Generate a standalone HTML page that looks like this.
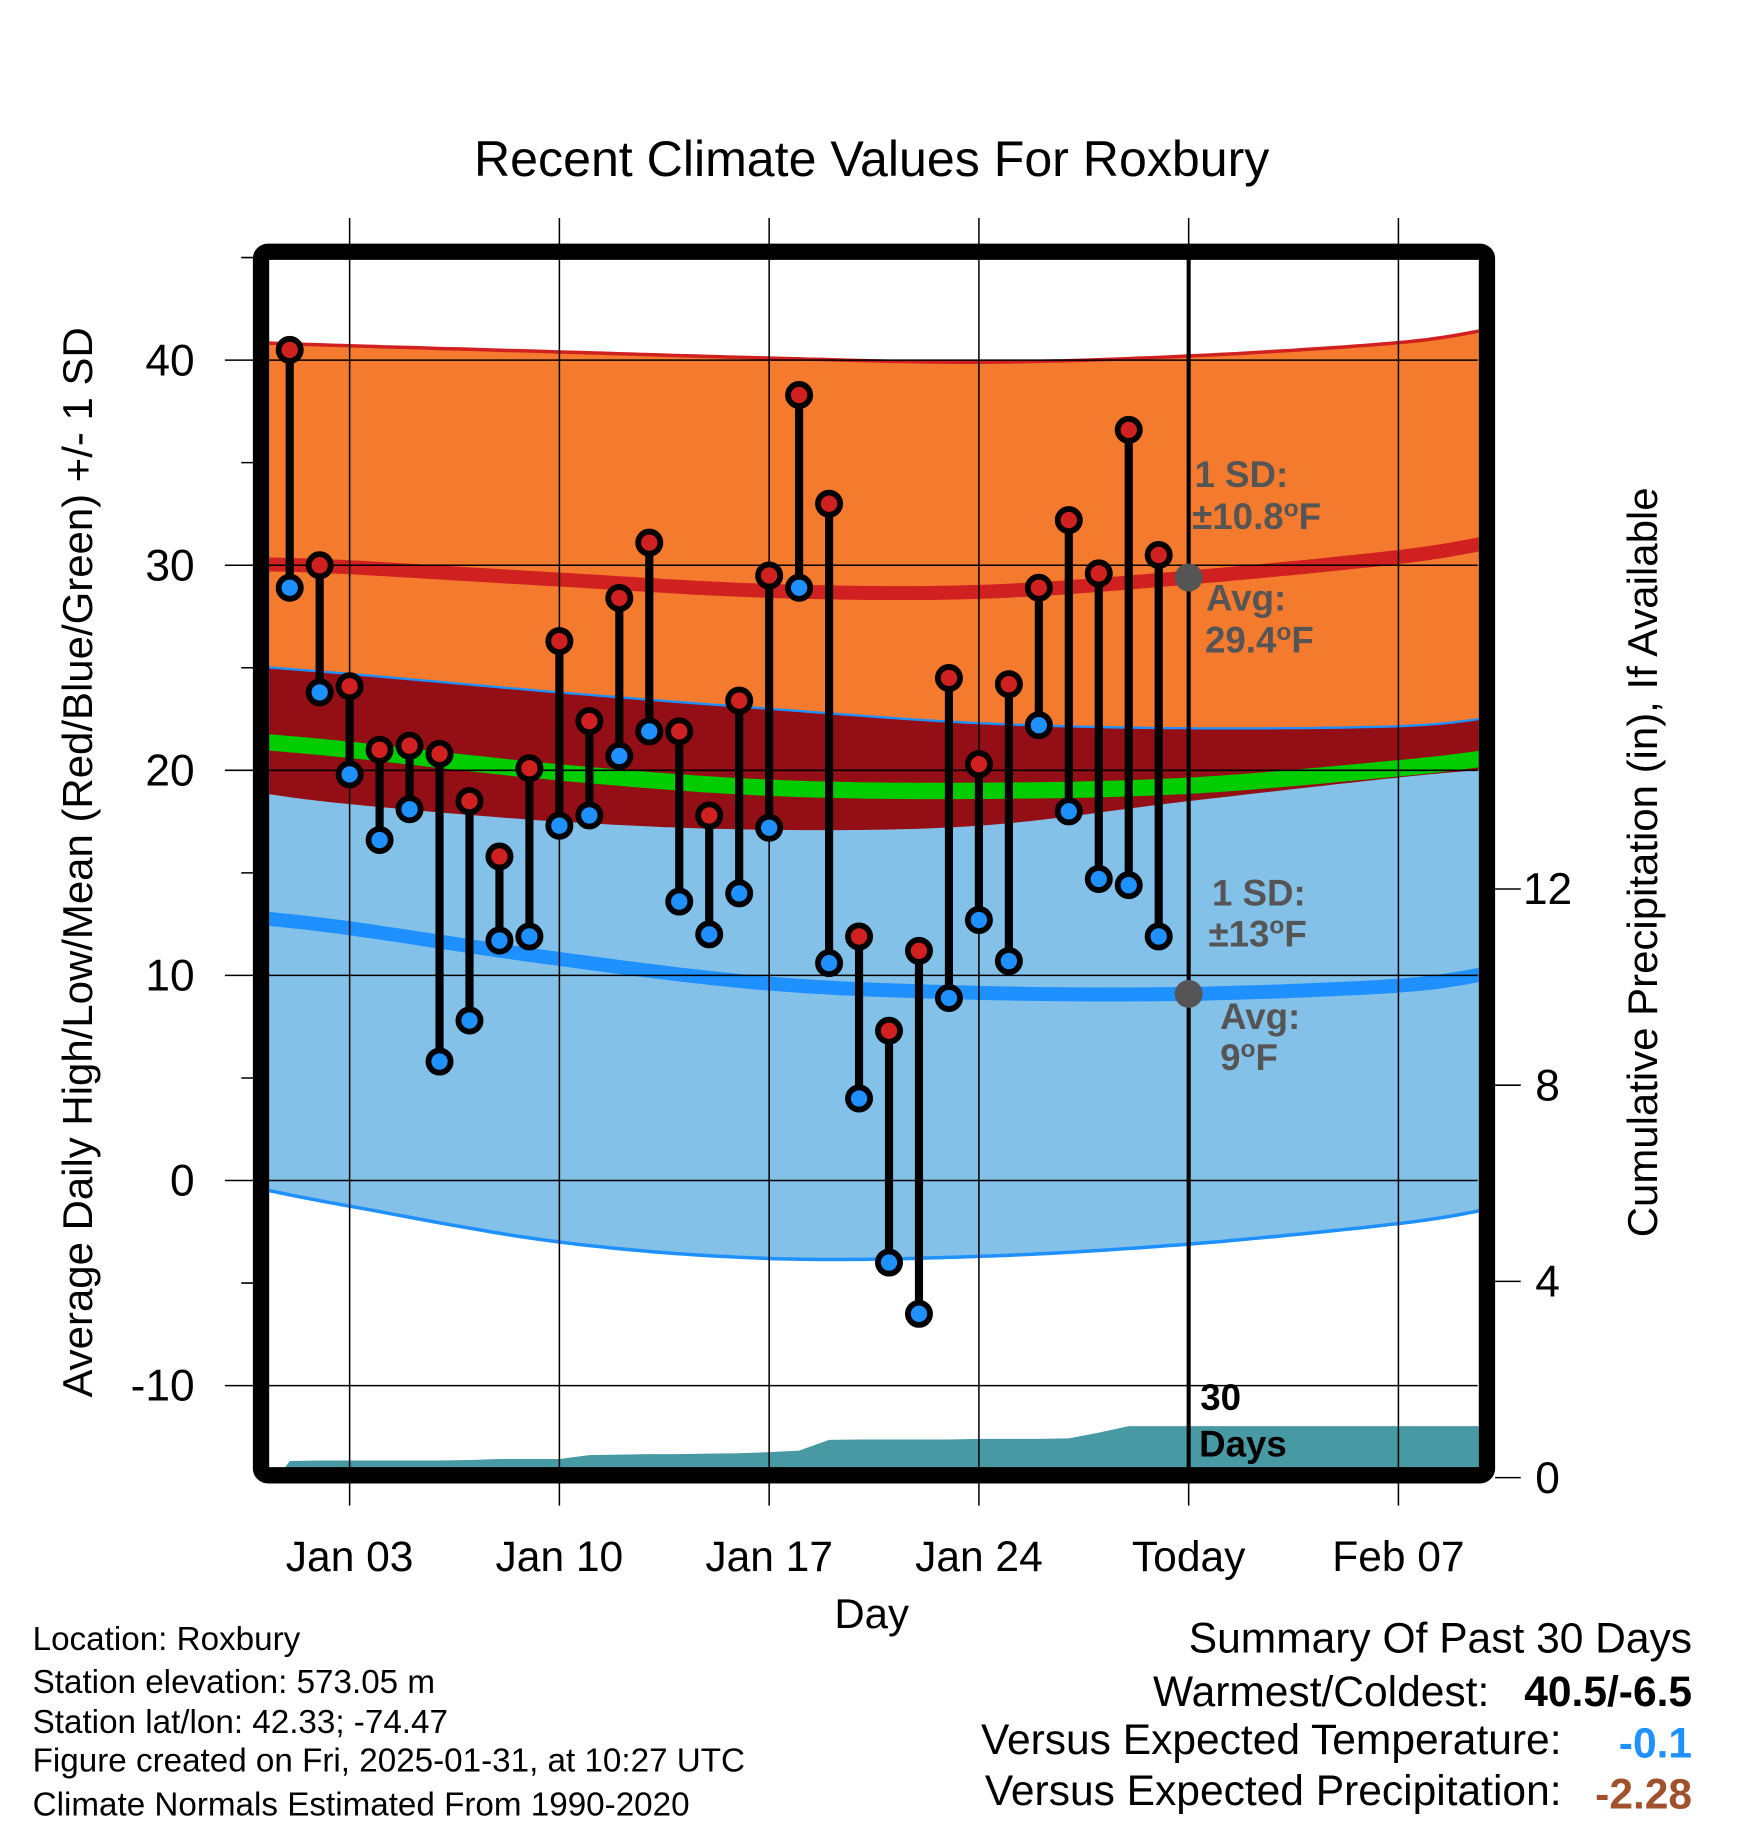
<!DOCTYPE html>
<html><head><meta charset="utf-8"><style>
html,body{margin:0;padding:0;background:#fff;}
svg{display:block;font-family:"Liberation Sans",Arial,sans-serif;}
</style></head><body>
<svg id="chart" width="1748" height="1828" viewBox="0 0 1500 1568.6" xmlns="http://www.w3.org/2000/svg">
<defs><clipPath id="plotClip"><rect x="231" y="222" width="1038" height="1038"/></clipPath></defs>
<rect x="0" y="0" width="1500" height="1568.6" fill="#fff"/>
<text x="748" y="151" font-size="43" text-anchor="middle">Recent Climate Values For Roxbury</text>
<g id="bands" clip-path="url(#plotClip)"></g>
<g id="grid"></g>
<g id="marks" clip-path="url(#plotClip)"></g>
<g id="annot"></g>
<rect x="224" y="216" width="1052" height="1050" rx="6" fill="none" stroke="#000" stroke-width="14"/>
<g id="axes"></g>
<text x="748" y="1397" font-size="36" text-anchor="middle">Day</text>
<text transform="translate(79,740) rotate(-90)" font-size="36" text-anchor="middle">Average Daily High/Low/Mean (Red/Blue/Green) +/- 1 SD</text>
<text transform="translate(1422,740) rotate(-90)" font-size="36" text-anchor="middle">Cumulative Precipitation (in), If Available</text>
<g font-size="28.5">
<text x="28" y="1416">Location: Roxbury</text>
<text x="28" y="1453">Station elevation: 573.05 m</text>
<text x="28" y="1487">Station lat/lon: 42.33; -74.47</text>
<text x="28" y="1520">Figure created on Fri, 2025-01-31, at 10:27 UTC</text>
<text x="28" y="1558">Climate Normals Estimated From 1990-2020</text>
</g>
<g font-size="36.5">
<text x="1452" y="1418" text-anchor="end">Summary Of Past 30 Days</text>
<text x="1278" y="1464" text-anchor="end">Warmest/Coldest:</text>
<text x="1452" y="1464" text-anchor="end" font-weight="bold">40.5/-6.5</text>
<text x="1340" y="1505" text-anchor="end">Versus Expected Temperature:</text>
<text x="1452" y="1508" text-anchor="end" font-weight="bold" fill="#1E90FF">-0.1</text>
<text x="1340" y="1549" text-anchor="end">Versus Expected Precipitation:</text>
<text x="1452" y="1552" text-anchor="end" font-weight="bold" fill="#A0522D">-2.28</text>
</g>
</svg>
<script>
// ---- data ----
var highs = [40.5,30.0,24.1,21.0,21.2,20.8,18.5,15.8,20.1,26.3,22.4,28.4,31.1,21.9,17.8,23.4,29.5,38.3,33.0,11.9,7.3,11.2,24.5,20.3,24.2,28.9,32.2,29.6,36.6,30.5];
var lows  = [28.9,23.8,19.8,16.6,18.1,5.8,7.8,11.7,11.9,17.3,17.8,20.7,21.9,13.6,12.0,14.0,17.2,28.9,10.6,4.0,-4.0,-6.5,8.9,12.7,10.7,22.2,18.0,14.7,14.4,11.9];
var precip = [0.34,0.35,0.35,0.35,0.35,0.35,0.36,0.38,0.38,0.38,0.46,0.47,0.48,0.48,0.49,0.50,0.52,0.55,0.77,0.78,0.78,0.78,0.78,0.79,0.79,0.79,0.80,0.92,1.05,1.05];
var normDays  = [0,3,10,17,24,31,38,41];
var highUpper = [40.85,40.7,40.4,40.1,39.9,40.2,40.85,41.5];
var highMean  = [30.05,29.9,29.3,28.75,28.7,29.4,30.4,31.1];
var highLower = [18.9,18.35,17.5,17.1,17.3,18.5,19.65,20.05];
var lowUpper  = [25.05,24.7,23.8,23.0,22.3,22.05,22.15,22.55];
var lowMean   = [12.8,12.3,10.8,9.6,9.15,9.1,9.5,10.1];
var lowLower  = [-0.4,-1.25,-3.0,-3.8,-3.7,-3.1,-2.1,-1.4];
var avgMean   = [21.4,21.0,19.9,19.15,19.0,19.25,20.1,20.6];
var yTicks = [-10,0,10,20,30,40];
var y2Ticks = [0,4,8,12];
var xTickDays = [3,10,17,24,31,38];
var xTickLabels = ["Jan 03","Jan 10","Jan 17","Jan 24","Today","Feb 07"];

// ---- scales ----
function xs(d){ return 248.6 + (d-1)*25.714; }
function ys(t){ return 1013 - 17.6*t; }
function yp(p){ return 1268 - 42.1*p; }
var NS="http://www.w3.org/2000/svg";
function mk(tag, attrs, parent){ var e=document.createElementNS(NS,tag); for(var k in attrs) e.setAttribute(k,attrs[k]); parent.appendChild(e); return e; }

function smoothPts(days, vals){
  var pts=[]; var n=days.length;
  for(var i=0;i<n-1;i++){
    var p0=i>0?i-1:i, p3=i+2<n?i+2:i+1;
    for(var s=0;s<20;s++){
      var t=s/20;
      function cr(a){ var v0=a[p0],v1=a[i],v2=a[i+1],v3=a[p3];
        return 0.5*((2*v1)+(-v0+v2)*t+(2*v0-5*v1+4*v2-v3)*t*t+(-v0+3*v1-3*v2+v3)*t*t*t); }
      pts.push([xs(cr(days)), ys(cr(vals))]);
    }
  }
  pts.push([xs(days[n-1]), ys(vals[n-1])]);
  return pts;
}
function ptsStr(p){ return p.map(function(q){return q[0].toFixed(1)+","+q[1].toFixed(1);}).join(" "); }
function band(upper, lower){ var a=smoothPts(normDays,upper), b=smoothPts(normDays,lower).reverse(); return ptsStr(a.concat(b)); }

var bands=document.getElementById('bands');
var e;
e=mk('polygon',{points:band(highUpper,highLower),fill:'#F47A2E'},bands);
 
e=mk('polygon',{points:band(lowUpper,lowLower),fill:'#84C1E8'},bands);
 
e=mk('polygon',{points:band(lowUpper,highLower),fill:'#930F15'},bands);
 
e=mk('polyline',{points:ptsStr(smoothPts(normDays,highUpper)),fill:'none',stroke:'#D02020','stroke-width':3},bands);
 
e=mk('polyline',{points:ptsStr(smoothPts(normDays,lowUpper)),fill:'none',stroke:'#1E90FF','stroke-width':2},bands);
 
e=mk('polyline',{points:ptsStr(smoothPts(normDays,lowLower)),fill:'none',stroke:'#1E90FF','stroke-width':3},bands);
 
e=mk('polyline',{points:ptsStr(smoothPts(normDays,avgMean)),fill:'none',stroke:'#00CC00','stroke-width':14},bands);
 
e=mk('polyline',{points:ptsStr(smoothPts(normDays,highMean)),fill:'none',stroke:'#D02020','stroke-width':12},bands);
 
e=mk('polyline',{points:ptsStr(smoothPts(normDays,lowMean)),fill:'none',stroke:'#1E90FF','stroke-width':12},bands);
 

// precipitation area
var pp=[[xs(0.6),yp(0)]];
for(var i=0;i<precip.length;i++) pp.push([xs(i+1),yp(precip[i])]);
pp.push([xs(42),yp(precip[precip.length-1])]); pp.push([xs(42),yp(0)]);
e=mk('polygon',{points:ptsStr(pp),fill:'#4799A3'},bands);
 

// grid
var grid=document.getElementById('grid');
yTicks.forEach(function(t){
  var g=mk('line',{x1:193,x2:1268,y1:ys(t),y2:ys(t),stroke:'#000','stroke-width':1.3},grid);
   
});
[45,35,25,15,5,-5].forEach(function(t){
  var g=mk('line',{x1:207,x2:224,y1:ys(t),y2:ys(t),stroke:'#000','stroke-width':1.3},grid);
   
});
xTickDays.forEach(function(d){
  var g=mk('line',{x1:xs(d),x2:xs(d),y1:187,y2:1292,stroke:'#000','stroke-width':1.3},grid);
   
});

// marks
var marks=document.getElementById('marks');
var todayLine=mk('line',{x1:xs(31),x2:xs(31),y1:222,y2:1262,stroke:'#000','stroke-width':3.5},marks);
 
for(var i=0;i<highs.length;i++){
  var x=xs(i+1);
  var s=mk('line',{x1:x,x2:x,y1:ys(highs[i]),y2:ys(lows[i]),stroke:'#000','stroke-width':7},marks);
   
}
for(var i=0;i<highs.length;i++){
  var x=xs(i+1);
  var h=mk('circle',{cx:x,cy:ys(highs[i]),r:9.5,fill:'#D02020',stroke:'#000','stroke-width':5},marks);
   
  var l=mk('circle',{cx:x,cy:ys(lows[i]),r:9.5,fill:'#1E90FF',stroke:'#000','stroke-width':5},marks);
   
}
var d1=mk('circle',{cx:xs(31),cy:ys(29.4),r:12,fill:'#555'},marks);
 
var d2=mk('circle',{cx:xs(31),cy:ys(9.1),r:12,fill:'#555'},marks);
 

// annotations
var annot=document.getElementById('annot');
function ann(txt,x,y,name,fill){
  var t=mk('text',{x:x,y:y,'font-size':31.5,'font-weight':'bold',fill:fill||'#555'},annot);
  t.innerHTML=txt;
   
}
ann('1 SD:',1025,418,'high-sd-label');
ann('±10.8<tspan font-size="21" dy="-11">o</tspan><tspan dy="11">F</tspan>',1023,454,'high-sd-value');
ann('Avg:',1035,524,'high-avg-label');
ann('29.4<tspan font-size="21" dy="-11">o</tspan><tspan dy="11">F</tspan>',1034,560,'high-avg-value');
ann('1 SD:',1040,777,'low-sd-label');
ann('±13<tspan font-size="21" dy="-11">o</tspan><tspan dy="11">F</tspan>',1037,812,'low-sd-value');
ann('Avg:',1047,883,'low-avg-label');
ann('9<tspan font-size="21" dy="-11">o</tspan><tspan dy="11">F</tspan>',1047,918,'low-avg-value');
ann('30',1030,1210,'days-count','#000');
ann('Days',1029,1250,'days-label','#000');

// axes labels
var axes=document.getElementById('axes');
yTicks.forEach(function(t){
  var l=mk('text',{x:167,y:ys(t)+13,'font-size':38,'text-anchor':'end'},axes);
  l.textContent=String(t);
   
});
y2Ticks.forEach(function(p){
  var k=mk('line',{x1:1283,x2:1305,y1:yp(p),y2:yp(p),stroke:'#000','stroke-width':1.3},axes);
   
  var l=mk('text',{x:1328,y:yp(p)+13,'font-size':38,'text-anchor':'middle'},axes);
  l.textContent=String(p);
   
});
xTickDays.forEach(function(d,i){
  var l=mk('text',{x:xs(d),y:1348,'font-size':36.5,'text-anchor':'middle'},axes);
  l.textContent=xTickLabels[i];
   
});
</script>
</body></html>
